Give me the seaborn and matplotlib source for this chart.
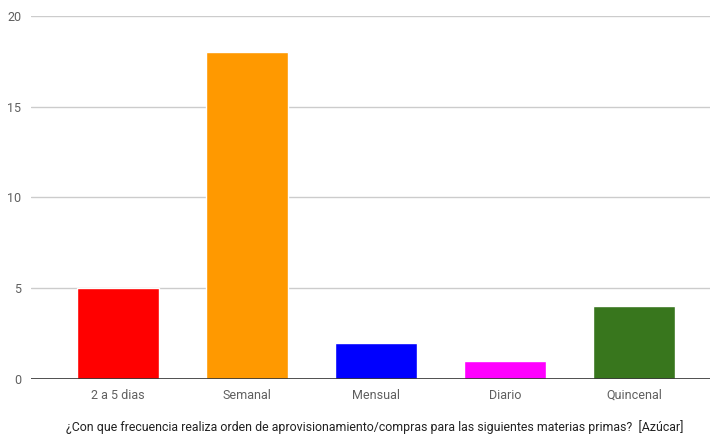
import matplotlib
matplotlib.use("Agg")
import matplotlib.pyplot as plt
import seaborn as sns
import pandas as pd

categories = ["2 a 5 dias", "Semanal", "Mensual", "Diario", "Quincenal"]
counts = [5, 18, 2, 1, 4]
bar_colors = ["#ff0000", "#ff9900", "#0000ff", "#ff00ff", "#38761d"]
y_ticks = [0, 5, 10, 15, 20]
x_title = "¿Con que frecuencia realiza orden de aprovisionamiento/compras para las siguientes materias primas?  [Azúcar]"

sns.set_theme(style="white")
plt.rcParams["font.family"] = ["Roboto", "DejaVu Sans"]

df = pd.DataFrame({"categoria": categories, "valor": counts})

fig = plt.figure(figsize=(7.12, 4.36), dpi=100)
ax = fig.add_axes([31 / 712, 1 - 379 / 436, 679 / 712, 363 / 436])

sns.barplot(data=df, x="categoria", y="valor", hue="categoria",
            palette=bar_colors, legend=False, width=0.64, saturation=1,
            ax=ax, zorder=3)

ax.set_xlim(-0.674, 4.589)
ax.set_ylim(0, 20)
ax.set_yticks(y_ticks)
ax.yaxis.grid(True, color="#cccccc", linewidth=1, zorder=0)
ax.axhline(0, color="#333333", linewidth=1.2, zorder=4)

for side in ["top", "right", "left", "bottom"]:
    ax.spines[side].set_visible(False)

ax.tick_params(axis="both", length=0, labelsize=9, labelcolor="#5f5f5f")
ax.tick_params(axis="x", pad=7)
ax.tick_params(axis="y", pad=7)
ax.set_ylabel("")
ax.set_xlabel("")
fig.text(375 / 712, 1 - 427 / 436, x_title, fontsize=8.9, color="#222222",
         ha="center", va="center")

fig.savefig("out.png", dpi=100)
